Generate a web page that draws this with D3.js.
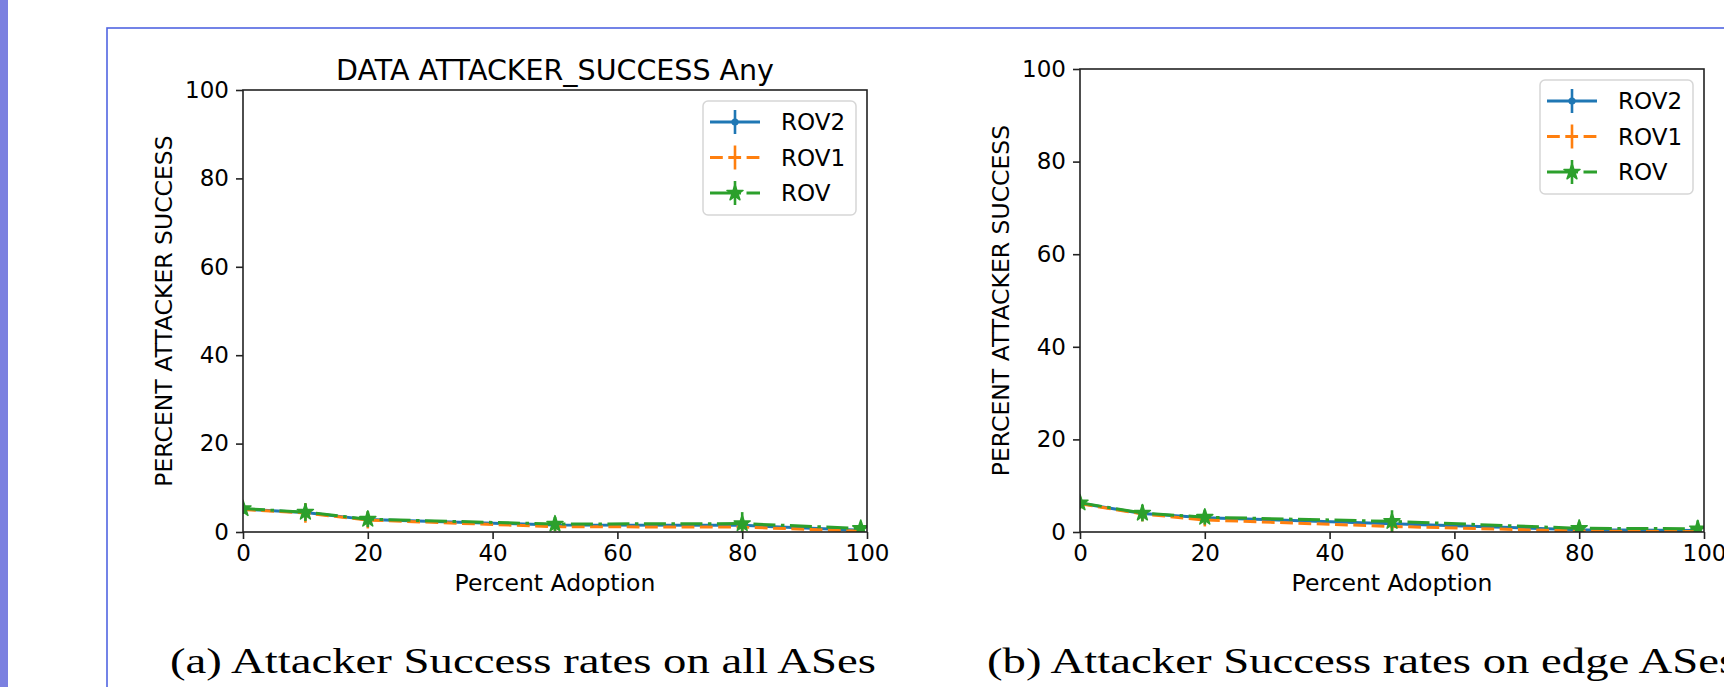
<!DOCTYPE html>
<html lang="en">
<head>
<meta charset="UTF-8">
<title>Attacker Success</title>
<script src="https://cdn.jsdelivr.net/npm/d3@7"></script>
<style>
    body { margin: 0; background: #fff; }
    svg { display: block; }
    text { font-family: "DejaVu Sans", sans-serif; fill: #000; }
    .caption { font-family: "Liberation Serif", serif; }
</style>
</head>
<body>
<div id="chart"></div>
<script>
// adoption levels on the x axis
const adoption = [0, 10, 20, 50, 80, 99];
const seriesNames = ["ROV2", "ROV1", "ROV"];
const xTicks = [0, 20, 40, 60, 80, 100];
const yTicks = [0, 20, 40, 60, 80, 100];

// panel (a): attacker success on all ASes
const allRov2 = [5.2, 4.4, 2.8, 1.6, 1.5, 0.4];
const allRov1 = [5.1, 4.3, 2.7, 1.2, 1.1, 0.2];
const allRov = [5.3, 4.5, 2.9, 1.8, 1.9, 0.8];
const allRov2Err = [0.8, 1.5, 1.3, 0.8, 1.2, 0.4];
const allRov1Err = [0.8, 2.2, 1.9, 1.0, 1.5, 0.4];
const allRovErr = [1.2, 2.0, 1.8, 1.6, 2.6, 1.0];

// panel (b): attacker success on edge ASes
const edgeRov2 = [6.2, 4.0, 3.1, 1.8, 0.5, 0.3];
const edgeRov1 = [6.1, 3.9, 2.6, 1.2, 0.2, 0.1];
const edgeRov = [6.3, 4.1, 3.2, 2.3, 0.8, 0.7];
const edgeRov2Err = [1.0, 1.3, 1.0, 1.2, 0.5, 0.3];
const edgeRov1Err = [1.0, 1.6, 1.4, 1.4, 0.5, 0.3];
const edgeRovErr = [1.3, 1.8, 1.6, 2.4, 1.4, 1.8];

const W = 1724, H = 687;
const colors = ["#1f77b4", "#ff7f0e", "#2ca02c"];
const dashes = [null, "12.8,5.5", "22,5.5,3.5,5.5"];
const markers = ["dot", null, "star"];

const tickFont = 23, labelFont = 23.5, titleFont = 28.5, legendFont = 23;

const svg = d3.select("#chart").append("svg")
    .attr("width", W).attr("height", H);
svg.append("rect").attr("width", W).attr("height", H).attr("fill", "#fff");

// page decoration: purple side bar and blue frame
svg.append("rect").attr("x", 0).attr("y", 0).attr("width", 8).attr("height", H).attr("fill", "#7b80e0");
svg.append("rect").attr("x", 107).attr("y", 28).attr("width", 1700).attr("height", 800)
    .attr("fill", "none").attr("stroke", "#5165e2").attr("stroke-width", 1.6);

const panels = [
    {
        id: "a", left: 243, right: 867, top: 90, bottom: 532,
        title: "DATA ATTACKER_SUCCESS Any",
        caption: "(a) Attacker Success rates on all ASes", captionX: 170,
        values: [allRov2, allRov1, allRov], errs: [allRov2Err, allRov1Err, allRovErr]
    },
    {
        id: "b", left: 1080, right: 1704, top: 69, bottom: 532,
        title: null,
        caption: "(b) Attacker Success rates on edge ASes", captionX: 987,
        values: [edgeRov2, edgeRov1, edgeRov], errs: [edgeRov2Err, edgeRov1Err, edgeRovErr]
    }
];

const drawMarker = (g, kind, color, x, y) => {
    if (kind === "dot") {
        g.append("circle").attr("cx", x).attr("cy", y).attr("r", 3.6).attr("fill", color);
    } else if (kind === "star") {
        g.append("path").attr("d", d3.symbol(d3.symbolStar, 80)())
            .attr("transform", `translate(${x},${y})`)
            .attr("fill", color).attr("stroke", color).attr("stroke-width", 1.5)
            .attr("stroke-linejoin", "round");
    }
};

const drawPanel = (p) => {
    const x = d3.scaleLinear().domain([0, 100]).range([p.left, p.right]);
    const y = d3.scaleLinear().domain([0, 100]).range([p.bottom, p.top]);
    const g = svg.append("g");

    const clipId = "clip-" + p.id;
    g.append("clipPath").attr("id", clipId).append("rect")
        .attr("x", p.left).attr("y", p.top)
        .attr("width", p.right - p.left).attr("height", p.bottom - p.top);

    // data: errorbars, line, markers for each series
    const plot = g.append("g").attr("clip-path", `url(#${clipId})`);
    const line = d3.line().x((d, i) => x(adoption[i])).y(d => y(d));
    p.values.forEach((vals, s) => {
        const sg = plot.append("g");
        vals.forEach((v, i) => {
            sg.append("line")
                .attr("x1", x(adoption[i])).attr("x2", x(adoption[i]))
                .attr("y1", y(v - p.errs[s][i])).attr("y2", y(v + p.errs[s][i]))
                .attr("stroke", colors[s]).attr("stroke-width", 2.6);
        });
        sg.append("path").datum(vals).attr("d", line)
            .attr("fill", "none").attr("stroke", colors[s]).attr("stroke-width", 3)
            .attr("stroke-dasharray", dashes[s]);
        vals.forEach((v, i) => drawMarker(sg, markers[s], colors[s], x(adoption[i]), y(v)));
    });

    // axes
    const xAxis = g.append("g").attr("transform", `translate(0,${p.bottom})`)
        .call(d3.axisBottom(x).tickValues(xTicks).tickSize(7).tickPadding(6).tickSizeOuter(0));
    const yAxis = g.append("g").attr("transform", `translate(${p.left},0)`)
        .call(d3.axisLeft(y).tickValues(yTicks).tickSize(7).tickPadding(7).tickSizeOuter(0));
    [xAxis, yAxis].forEach(a => {
        a.select(".domain").remove();
        a.selectAll("line").attr("stroke", "#222").attr("stroke-width", 1.6);
        a.selectAll("text").attr("font-size", tickFont).attr("font-family", "DejaVu Sans").attr("fill", "#000");
    });
    g.append("rect").attr("x", p.left).attr("y", p.top)
        .attr("width", p.right - p.left).attr("height", p.bottom - p.top)
        .attr("fill", "none").attr("stroke", "#222").attr("stroke-width", 1.6);

    const midX = (p.left + p.right) / 2;
    if (p.title) {
        g.append("text").attr("x", midX).attr("y", 80).attr("text-anchor", "middle")
            .attr("font-size", titleFont).text(p.title);
    }
    g.append("text").attr("x", midX).attr("y", 591).attr("text-anchor", "middle")
        .attr("font-size", labelFont).text("Percent Adoption");
    g.append("text")
        .attr("transform", `translate(${p.left - 71},${(p.top + p.bottom) / 2}) rotate(-90)`)
        .attr("text-anchor", "middle").attr("font-size", labelFont)
        .text("PERCENT ATTACKER SUCCESS");

    // legend
    const lw = 153, lh = 114;
    const lx = p.right - 11 - lw, ly = p.top + 11;
    const leg = g.append("g");
    leg.append("rect").attr("x", lx).attr("y", ly).attr("width", lw).attr("height", lh)
        .attr("rx", 5).attr("fill", "#fff").attr("fill-opacity", 0.8)
        .attr("stroke", "#d6d6d6").attr("stroke-width", 1.5);
    seriesNames.forEach((name, s) => {
        const ry = ly + 21 + s * 35.5;
        const hx0 = lx + 7, hx1 = lx + 57, hc = (hx0 + hx1) / 2;
        leg.append("line").attr("x1", hx0).attr("x2", hx1).attr("y1", ry).attr("y2", ry)
            .attr("stroke", colors[s]).attr("stroke-width", 3).attr("stroke-dasharray", dashes[s]);
        leg.append("line").attr("x1", hc).attr("x2", hc).attr("y1", ry - 12).attr("y2", ry + 12)
            .attr("stroke", colors[s]).attr("stroke-width", 2.6);
        drawMarker(leg, markers[s], colors[s], hc, ry);
        leg.append("text").attr("x", lx + 78).attr("y", ry).attr("dy", "0.36em")
            .attr("font-size", legendFont).text(name);
    });

    return g.append("text").attr("class", "caption")
        .attr("x", p.captionX).attr("y", 673).attr("font-size", 36)
        .text(p.caption);
};

const captions = panels.map(drawPanel);

// stretch captions so (a) spans the same width as in the figure
const natA = captions[0].node().getComputedTextLength();
const stretch = 706 / natA;
captions.forEach(c => {
    const nat = c.node().getComputedTextLength();
    c.attr("textLength", nat * stretch).attr("lengthAdjust", "spacingAndGlyphs");
});
</script>
</body>
</html>
